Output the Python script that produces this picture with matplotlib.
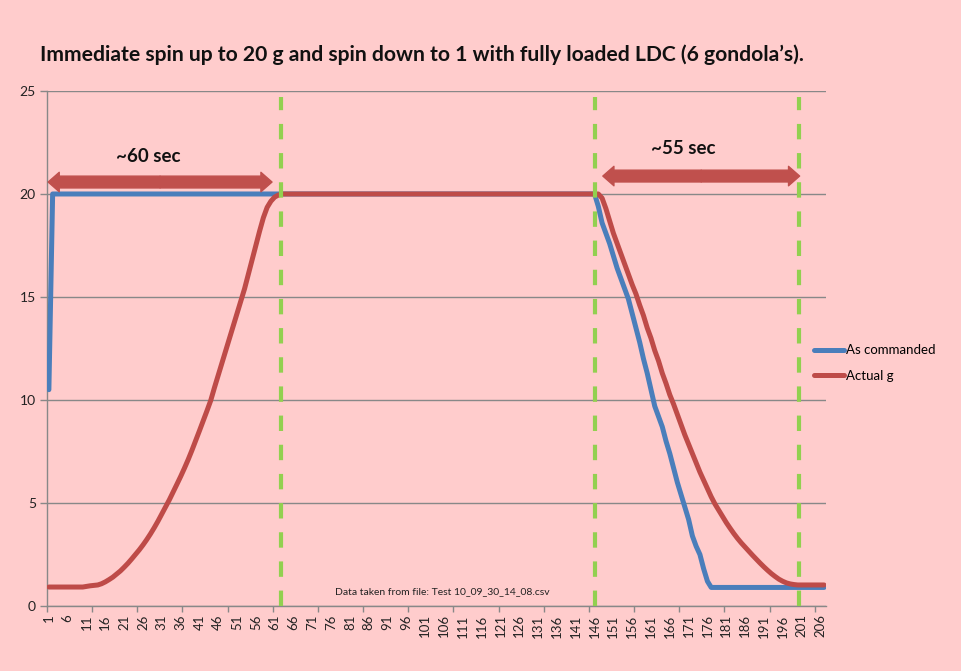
import numpy as np
import matplotlib.pyplot as plt
from matplotlib.patches import FancyArrowPatch

# datos (una muestra por segundo)
t = np.arange(1, 208)

as_commanded = ([10.5] + [20.0] * 145 +
                [19.4, 18.6, 18.1, 17.6, 17.0, 16.4, 15.9, 15.4, 14.9, 14.2,
                 13.5, 12.8, 12.0, 11.3, 10.5, 9.7, 9.2, 8.7, 8.0, 7.4,
                 6.7, 6.0, 5.4, 4.8, 4.2, 3.4, 2.9, 2.5, 1.8, 1.2] +
                [0.9] * 31)

actual_g = ([0.92] * 10 + [0.95, 0.98] +
            [1.00, 1.02, 1.08, 1.17, 1.28, 1.40, 1.55, 1.70, 1.88, 2.07,
             2.28, 2.50, 2.72, 2.96, 3.22, 3.50, 3.80, 4.12, 4.46, 4.80,
             5.15, 5.52, 5.90, 6.28, 6.68, 7.10, 7.55, 8.02, 8.50, 8.98,
             9.47, 9.97, 10.6, 11.2, 11.8, 12.4, 13.0, 13.6, 14.2, 14.8,
             15.4, 16.1, 16.8, 17.5, 18.2, 18.85, 19.35, 19.65, 19.85, 19.95] +
            [20.0] * 85 +
            [19.8, 19.3, 18.7, 18.1, 17.6, 17.1, 16.6, 16.1, 15.6, 15.15,
             14.6, 14.1, 13.5, 13.0, 12.4, 11.9, 11.3, 10.8, 10.25, 9.8,
             9.3, 8.8, 8.3, 7.85, 7.4, 6.95, 6.5, 6.1, 5.7, 5.3,
             4.95, 4.65, 4.35, 4.05, 3.78, 3.52, 3.28, 3.06, 2.86, 2.66,
             2.46, 2.27, 2.08, 1.90, 1.73, 1.57, 1.43, 1.30, 1.20, 1.12,
             1.07, 1.04] +
            [1.02] * 8)

series_names = ['As commanded', 'Actual g']
x_labels = list(range(1, 207, 5))
y_ticks = [0, 5, 10, 15, 20, 25]

# marcas verticales y flechas de duracion
marker_x = [62.7, 146.1, 200.3]
# (inicio, fin, altura flecha, texto, x texto, y texto)
spans = [(0.8, 60.3, 20.58, '~60 sec', 27.3, 21.8),
         (148.2, 200.5, 20.87, '~55 sec', 169.5, 22.2)]

title = 'Immediate spin up to 20 g and spin down to 1 with fully loaded LDC (6 gondola\u2019s).'
note = 'Data taken from file: Test 10_09_30_14_08.csv'

# GRAFICA
bg = '#FFCCCC'
plt.rcParams['font.family'] = ['Lato', 'DejaVu Sans']

fig = plt.figure(figsize=(9.61, 6.71), dpi=100, facecolor=bg)
ax = fig.add_axes([0.0489, 0.0969, 0.8106, 0.7675], facecolor=bg)

ax.plot(t, as_commanded, color='#4A7EBB', lw=3.6, solid_capstyle='round',
        solid_joinstyle='round', label=series_names[0], zorder=3)
ax.plot(t, actual_g, color='#BE4B48', lw=3.6, solid_capstyle='round',
        solid_joinstyle='round', label=series_names[1], zorder=4)

ax.set_xlim(0.5, 207.5)
ax.set_ylim(0, 25)
ax.set_yticks(y_ticks)
ax.set_xticks(x_labels)
ax.set_xticklabels([str(v) for v in x_labels], rotation=90, fontsize=9.5)
ax.set_xticks(np.arange(0.5, 207, 12), minor=True)
ax.tick_params(axis='x', which='major', length=0, pad=6, colors='#222222')
ax.tick_params(axis='x', which='minor', length=4, width=1, color='#888888')
ax.tick_params(axis='y', length=5, width=1, color='#888888', labelsize=10,
               labelcolor='#222222', pad=3)
ax.grid(axis='y', color='#888888', lw=1)
for s in ['top', 'right']:
    ax.spines[s].set_visible(False)
for s in ['left', 'bottom']:
    ax.spines[s].set_color('#888888')
    ax.spines[s].set_linewidth(1)

for xm in marker_x:
    ax.plot([xm, xm], [0, 24.7], color='#92D050', lw=3, dashes=(3.7, 3.3),
            zorder=5, clip_on=False)

for x0, x1, ya, txt, xt, yt in spans:
    xm = (x0 + x1) / 2
    for xe in (x0, x1):
        arr = FancyArrowPatch((xm, ya), (xe, ya), mutation_scale=1,
                              arrowstyle='simple,head_width=14,head_length=8,tail_width=8.5',
                              color='#C0504D', shrinkA=0, shrinkB=0, zorder=6)
        ax.add_patch(arr)
    ax.text(xt, yt, txt, ha='center', va='center', fontsize=13.5,
            fontweight='bold', color='#111111')

ax.text(0.508, 0.027, note, transform=ax.transAxes, ha='center', va='center',
        fontsize=7.5, color='#222222')

fig.text(40 / 961, 1 - 55 / 671, title, ha='left', va='center', fontsize=15.2,
         fontweight='bold', color='#111111')

ax.legend(loc='center left', bbox_to_anchor=(814 / 961, 1 - 363 / 671),
          bbox_transform=fig.transFigure, frameon=False, fontsize=9.5,
          handlelength=2.3, handletextpad=0.1, labelspacing=1.0,
          borderaxespad=0, borderpad=0)

fig.savefig('out.png', dpi=100, facecolor=bg)
